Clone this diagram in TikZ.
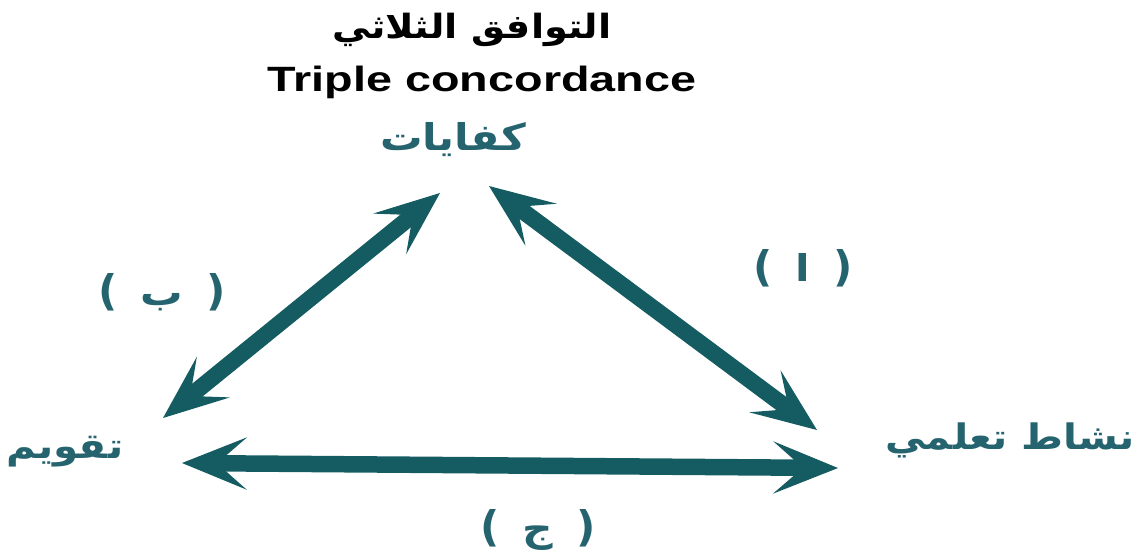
\documentclass[tikz,border=0pt]{standalone}
\usepackage{fontspec}
\usepackage{tikz}
\usetikzlibrary{arrows.meta,positioning}
\setmainfont{Liberation Sans}
\newfontfamily\arabicfont[Script=Arabic,FakeStretch=1.15]{DejaVu Sans}
\newfontfamily\latinwide[FakeStretch=1.33]{Liberation Sans}
\newfontfamily\parenfont{DejaVu Sans}
\TeXXeTstate=1
\definecolor{arrowteal}{HTML}{145C61}
\definecolor{textteal}{HTML}{25646E}

\begin{document}
\begin{tikzpicture}[x=0.02cm, y=-0.02cm,
  title/.style={font=\arabicfont\bfseries\fontsize{19}{22}\selectfont, text=black, inner sep=0pt},
  eng/.style={font=\latinwide\bfseries\fontsize{20}{24}\selectfont, text=black, inner sep=0pt},
  corner/.style={font=\arabicfont\bfseries\fontsize{20}{24}\selectfont, text=textteal, inner sep=0pt},
  tag/.style={font=\parenfont\bfseries\fontsize{24}{26}\selectfont, text=textteal, inner sep=0pt},
  dbl/.style={{Stealth[length=1.3cm,width=1.05cm,inset=0.6cm,line width=0pt]}-{Stealth[length=1.3cm,width=1.05cm,inset=0.6cm,line width=0pt]}, line width=0.33cm, draw=arrowteal},
]
  \useasboundingbox (0,0) rectangle (1139,559);

  \node[title] (titlear) at (472,30) {\beginR التوافق الثلاثي\endR};
  \node[eng] (titleen) at (482,82) {Triple concordance};

  \node[corner, font=\arabicfont\bfseries\fontsize{21}{24}\selectfont] (kifayat) at (453,140) {\beginR كفايات\endR};
  \node[corner] (taqwim) at (65,452) {\beginR تقويم\endR};
  \node[corner] (nashat) at (1010,440) {\beginR نشاط تعلمي\endR};

  \coordinate (kif-l) at (440,193);
  \coordinate (kif-r) at (489,186);
  \coordinate (taq-t) at (163,418);
  \coordinate (taq-b) at (182,463);
  \coordinate (nas-t) at (817,430);
  \coordinate (nas-b) at (838,468);

  \draw[dbl] (taq-t) -- (kif-l);
  \draw[dbl] (kif-r) -- (nas-t);
  \draw[dbl] (taq-b) -- (nas-b);

  \node[tag] (tagb) at (162,292) {(\hspace{0.55em}{\arabicfont\fontsize{21}{24}\selectfont\beginR ب\endR}\hspace{0.55em})};
  \node[tag] (taga) at (803,268) {(\hspace{0.55em}{\arabicfont\fontsize{21}{24}\selectfont\beginR ا\endR}\hspace{0.55em})};
  \node[tag] (tagj) at (538,530) {(\hspace{0.55em}{\arabicfont\fontsize{21}{24}\selectfont\beginR ج\endR}\hspace{0.55em})};
\end{tikzpicture}
\end{document}
